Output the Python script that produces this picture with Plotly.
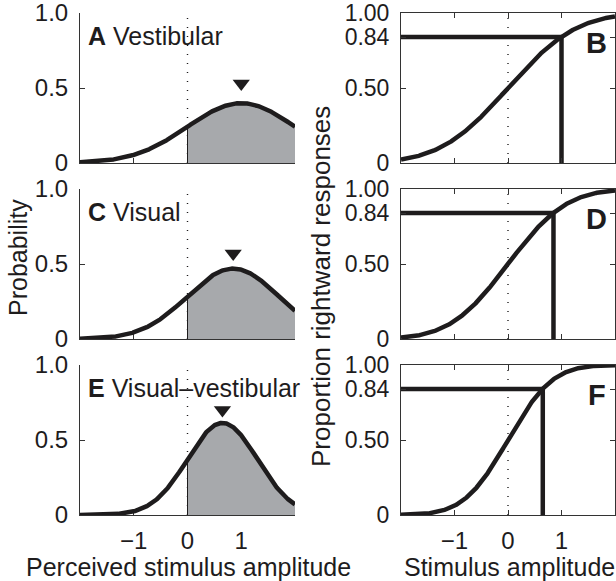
import math
import numpy as np
import plotly.graph_objects as go

# ---- data ----
conditions = ["Vestibular", "Visual", "Visual\u2013vestibular"]
left_letters = ["A", "C", "E"]
right_letters = ["B", "D", "F"]
thresholds = [1.0, 0.85, 0.65]        # sigma of each condition (84% point)
perceived_means = [1.0, 0.85, 0.65]    # mean of perceived-amplitude distribution
marker_heights = [0.53, 0.57, 0.70]    # height of the triangle marker above each peak
criterion = 0.84
left_yticks = [0, 0.5, 1.0]
left_yticklabels = ["0", "0.5", "1.0"]
right_yticks = [0, 0.5, 0.84, 1.0]
right_yticklabels = ["0", "0.50", "0.84", "1.00"]
xticks = [-1, 0, 1]
xticklabels = ["\u22121", "0", "1"]

W, H = 616, 581
FONT = "Liberation Sans, Arial, Helvetica, sans-serif"
INK = "#1e1c1d"
GRAY = "#a7a9ac"

row_tops = [13, 189, 365]
row_h = 150
col_x = [(80, 295), (401, 615)]


def pdf(x, m, s):
    return np.exp(-0.5 * ((x - m) / s) ** 2) / (s * math.sqrt(2 * math.pi))


def cdf(x, s):
    return np.array([0.5 * (1 + math.erf(v / (s * math.sqrt(2)))) for v in x])


fig = go.Figure()
layout = {}
annotations = []

for i in range(3):
    for j in range(2):
        k = 2 * i + j + 1
        xs_name = "x" if k == 1 else f"x{k}"
        ys_name = "y" if k == 1 else f"y{k}"
        xa_key = "xaxis" if k == 1 else f"xaxis{k}"
        ya_key = "yaxis" if k == 1 else f"yaxis{k}"
        x0, x1 = col_x[j]
        top = row_tops[i]
        bot = top + row_h
        bottom_row = i == 2
        common_x = dict(
            domain=[x0 / W, x1 / W], range=[-2, 2], anchor=ys_name, automargin=False,
            tickvals=xticks, ticktext=xticklabels if bottom_row else ["", "", ""],
            ticks="inside", ticklen=5, tickwidth=1, tickcolor="#333",
            showline=True, linecolor="#333", linewidth=1, showgrid=False, zeroline=False,
            tickfont=dict(family=FONT, size=24, color=INK), ticklabelstandoff=4,
            ticklabeloverflow="allow",
        )
        common_y = dict(
            domain=[1 - bot / H, 1 - top / H], range=[0, 1], anchor=xs_name, automargin=False,
            ticks="inside", ticklen=5, tickwidth=1, tickcolor="#333",
            showline=True, linecolor="#333", linewidth=1, showgrid=False, zeroline=False,
            tickfont=dict(family=FONT, size=24 if j == 0 else 23, color=INK), ticklabelstandoff=6,
            ticklabeloverflow="allow",
        )
        # dotted zero line
        fig.add_trace(go.Scatter(x=[0, 0], y=[0, 1], mode="lines", xaxis=xs_name, yaxis=ys_name,
                                 line=dict(color=INK, width=1.4, dash="1px,8px"), hoverinfo="skip"))
        if j == 0:
            m, s = perceived_means[i], thresholds[i]
            xf = np.linspace(0, 2, 200)
            fig.add_trace(go.Scatter(x=xf, y=pdf(xf, m, s), mode="lines", fill="tozeroy",
                                     fillcolor=GRAY, line=dict(width=0), xaxis=xs_name, yaxis=ys_name,
                                     hoverinfo="skip"))
            fig.add_trace(go.Scatter(x=[0, 0], y=[0, float(pdf(0.0, m, s))], mode="lines",
                                     line=dict(color=INK, width=1), xaxis=xs_name, yaxis=ys_name))
            xc = np.linspace(-2, 2, 400)
            fig.add_trace(go.Scatter(x=xc, y=pdf(xc, m, s), mode="lines",
                                     line=dict(color=INK, width=4.5), xaxis=xs_name, yaxis=ys_name))
            fig.add_trace(go.Scatter(x=[m], y=[marker_heights[i]], mode="markers",
                                     marker=dict(symbol="triangle-down", size=15, color=INK),
                                     xaxis=xs_name, yaxis=ys_name))
            common_x.update(layer="below traces")
            common_y.update(tickvals=left_yticks, ticktext=left_yticklabels, layer="below traces")
            annotations.append(dict(
                xref=f"{xs_name} domain", yref=f"{ys_name} domain", x=0.03, y=0.85,
                xanchor="left", yanchor="middle", showarrow=False,
                text=f"<b>{left_letters[i]}</b> {conditions[i]}",
                font=dict(family=FONT, size=25, color=INK)))
        else:
            s = thresholds[i]
            xc = np.linspace(-2, 2, 400)
            fig.add_trace(go.Scatter(x=[-2, s, s], y=[criterion, criterion, 0], mode="lines",
                                     line=dict(color=INK, width=4.5), xaxis=xs_name, yaxis=ys_name))
            fig.add_trace(go.Scatter(x=xc, y=cdf(xc, s), mode="lines",
                                     line=dict(color=INK, width=4.5), xaxis=xs_name, yaxis=ys_name))
            common_x.update(mirror="ticks")
            common_y.update(tickvals=right_yticks, ticktext=right_yticklabels, mirror="ticks")
            annotations.append(dict(
                xref=f"{xs_name} domain", yref=f"{ys_name} domain", x=0.915, y=0.8,
                xanchor="center", yanchor="middle", showarrow=False,
                text=f"<b>{right_letters[i]}</b>",
                font=dict(family=FONT, size=29, color=INK)))
        layout[xa_key] = common_x
        layout[ya_key] = common_y

annotations += [
    dict(xref="paper", yref="paper", x=18 / W, y=1 - 258 / H, text="Probability", textangle=-90,
         showarrow=False, xanchor="center", yanchor="middle", font=dict(family=FONT, size=25, color=INK)),
    dict(xref="paper", yref="paper", x=321 / W, y=1 - 287 / H, text="Proportion rightward responses",
         textangle=-90, showarrow=False, xanchor="center", yanchor="middle",
         font=dict(family=FONT, size=26, color=INK)),
    dict(xref="paper", yref="paper", x=188 / W, y=1 - 567 / H, text="Perceived stimulus amplitude",
         showarrow=False, xanchor="center", yanchor="middle", font=dict(family=FONT, size=25, color=INK)),
    dict(xref="paper", yref="paper", x=509 / W, y=1 - 567 / H, text="Stimulus amplitude",
         showarrow=False, xanchor="center", yanchor="middle", font=dict(family=FONT, size=25, color=INK)),
]

fig.update_layout(
    template="none",
    width=W, height=H, margin=dict(l=0, r=0, t=0, b=0, pad=0),
    paper_bgcolor="white", plot_bgcolor="white", showlegend=False,
    annotations=annotations, **layout,
)
fig.write_html(
    "out.html",
    config={"displayModeBar": False},
    post_script="document.body.style.margin='0';document.body.style.overflow='hidden';",
)
